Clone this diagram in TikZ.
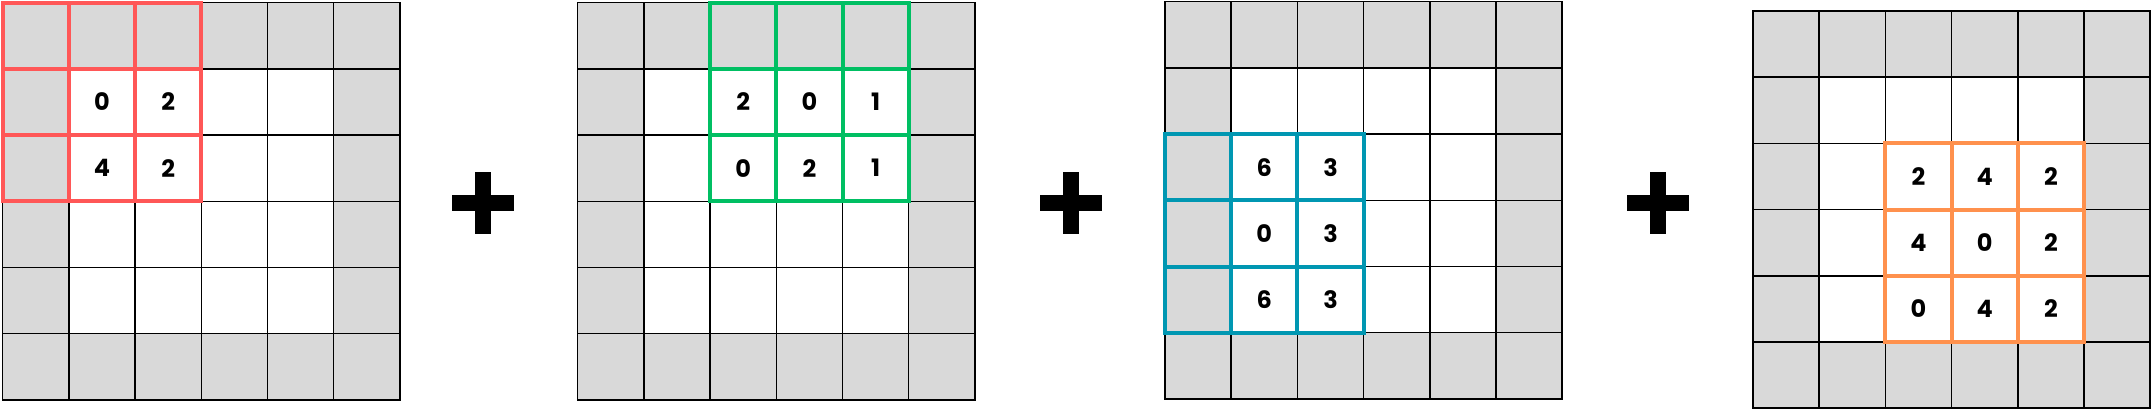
\documentclass[tikz,border=0pt]{standalone}
\usepackage{fontspec}
\setmainfont{Poppins}
\definecolor{cellgray}{HTML}{D9D9D9}
\definecolor{kred}{HTML}{FF5757}
\definecolor{kgreen}{HTML}{00BF63}
\definecolor{kblue}{HTML}{0097B2}
\definecolor{korange}{HTML}{FF914D}
\newcommand\padgrid[2]{%
  \begin{scope}[shift={(#1,#2)}]
    \fill[cellgray] (0,0) rectangle (6*\cs,6*\cs);
    \fill[white] (\cs,\cs) rectangle (5*\cs,5*\cs);
    \foreach \k in {0,...,6}{
      \draw[gridline] (\k*\cs,0) -- (\k*\cs,6*\cs);
      \draw[gridline] (0,\k*\cs) -- (6*\cs,\k*\cs);
    }
  \end{scope}}
\newcommand\kernbox[4]{% x0,y0,col,row ; colour via style current
  \begin{scope}[shift={(#1,#2)}]
    \foreach \k in {0,...,3}{
      \draw[kernline] ({(#3+\k)*\cs},{#4*\cs}) -- ({(#3+\k)*\cs},{(#4+3)*\cs});
      \draw[kernline] ({#3*\cs},{(#4+\k)*\cs}) -- ({(#3+3)*\cs},{(#4+\k)*\cs});
    }
  \end{scope}}
\newcommand\plussign[2]{%
  \fill[black] (#1-31,#2-8) rectangle (#1+31,#2+8);
  \fill[black] (#1-8,#2-31) rectangle (#1+8,#2+31);}
\begin{document}
\begin{tikzpicture}[x=0.75pt,y=-0.75pt,
  gridline/.style={draw=black,line width=1.1pt,line cap=rect},
  kernline/.style={line width=3pt,line cap=rect},
  num/.style={font=\fontsize{18}{21}\selectfont\bfseries,inner sep=0pt,anchor=center}]
\def\cs{66.2}
\useasboundingbox (0,0) rectangle (2153,410);
% grid 1
\padgrid{2.7}{2.7}
\begin{scope}[kernline/.append style={draw=kred}]
\kernbox{2.7}{2.7}{0}{0}
\end{scope}
\node[num] (a11) at (2.7+1.5*\cs,2.7+1.5*\cs) {0};
\node[num] (a12) at (2.7+2.5*\cs,2.7+1.5*\cs) {2};
\node[num] (a21) at (2.7+1.5*\cs,2.7+2.5*\cs) {4};
\node[num] (a22) at (2.7+2.5*\cs,2.7+2.5*\cs) {2};
\plussign{482.5}{203}
% grid 2
\padgrid{577.7}{2.7}
\begin{scope}[kernline/.append style={draw=kgreen}]
\kernbox{577.7}{2.7}{2}{0}
\end{scope}
\node[num] (b12) at (577.7+2.5*\cs,2.7+1.5*\cs) {2};
\node[num] (b13) at (577.7+3.5*\cs,2.7+1.5*\cs) {0};
\node[num] (b14) at (577.7+4.5*\cs,2.7+1.5*\cs) {1};
\node[num] (b22) at (577.7+2.5*\cs,2.7+2.5*\cs) {0};
\node[num] (b23) at (577.7+3.5*\cs,2.7+2.5*\cs) {2};
\node[num] (b24) at (577.7+4.5*\cs,2.7+2.5*\cs) {1};
\plussign{1071.3}{203}
% grid 3
\padgrid{1165}{1.7}
\begin{scope}[kernline/.append style={draw=kblue}]
\kernbox{1165}{1.7}{0}{2}
\end{scope}
\node[num] (c21) at (1165+1.5*\cs,1.7+2.5*\cs) {6};
\node[num] (c22) at (1165+2.5*\cs,1.7+2.5*\cs) {3};
\node[num] (c31) at (1165+1.5*\cs,1.7+3.5*\cs) {0};
\node[num] (c32) at (1165+2.5*\cs,1.7+3.5*\cs) {3};
\node[num] (c41) at (1165+1.5*\cs,1.7+4.5*\cs) {6};
\node[num] (c42) at (1165+2.5*\cs,1.7+4.5*\cs) {3};
\plussign{1657.5}{203}
% grid 4
\padgrid{1753}{11}
\begin{scope}[kernline/.append style={draw=korange}]
\kernbox{1753}{11}{2}{2}
\end{scope}
\node[num] (d22) at (1753+2.5*\cs,11+2.5*\cs) {2};
\node[num] (d23) at (1753+3.5*\cs,11+2.5*\cs) {4};
\node[num] (d24) at (1753+4.5*\cs,11+2.5*\cs) {2};
\node[num] (d32) at (1753+2.5*\cs,11+3.5*\cs) {4};
\node[num] (d33) at (1753+3.5*\cs,11+3.5*\cs) {0};
\node[num] (d34) at (1753+4.5*\cs,11+3.5*\cs) {2};
\node[num] (d42) at (1753+2.5*\cs,11+4.5*\cs) {0};
\node[num] (d43) at (1753+3.5*\cs,11+4.5*\cs) {4};
\node[num] (d44) at (1753+4.5*\cs,11+4.5*\cs) {2};
\end{tikzpicture}
\end{document}
